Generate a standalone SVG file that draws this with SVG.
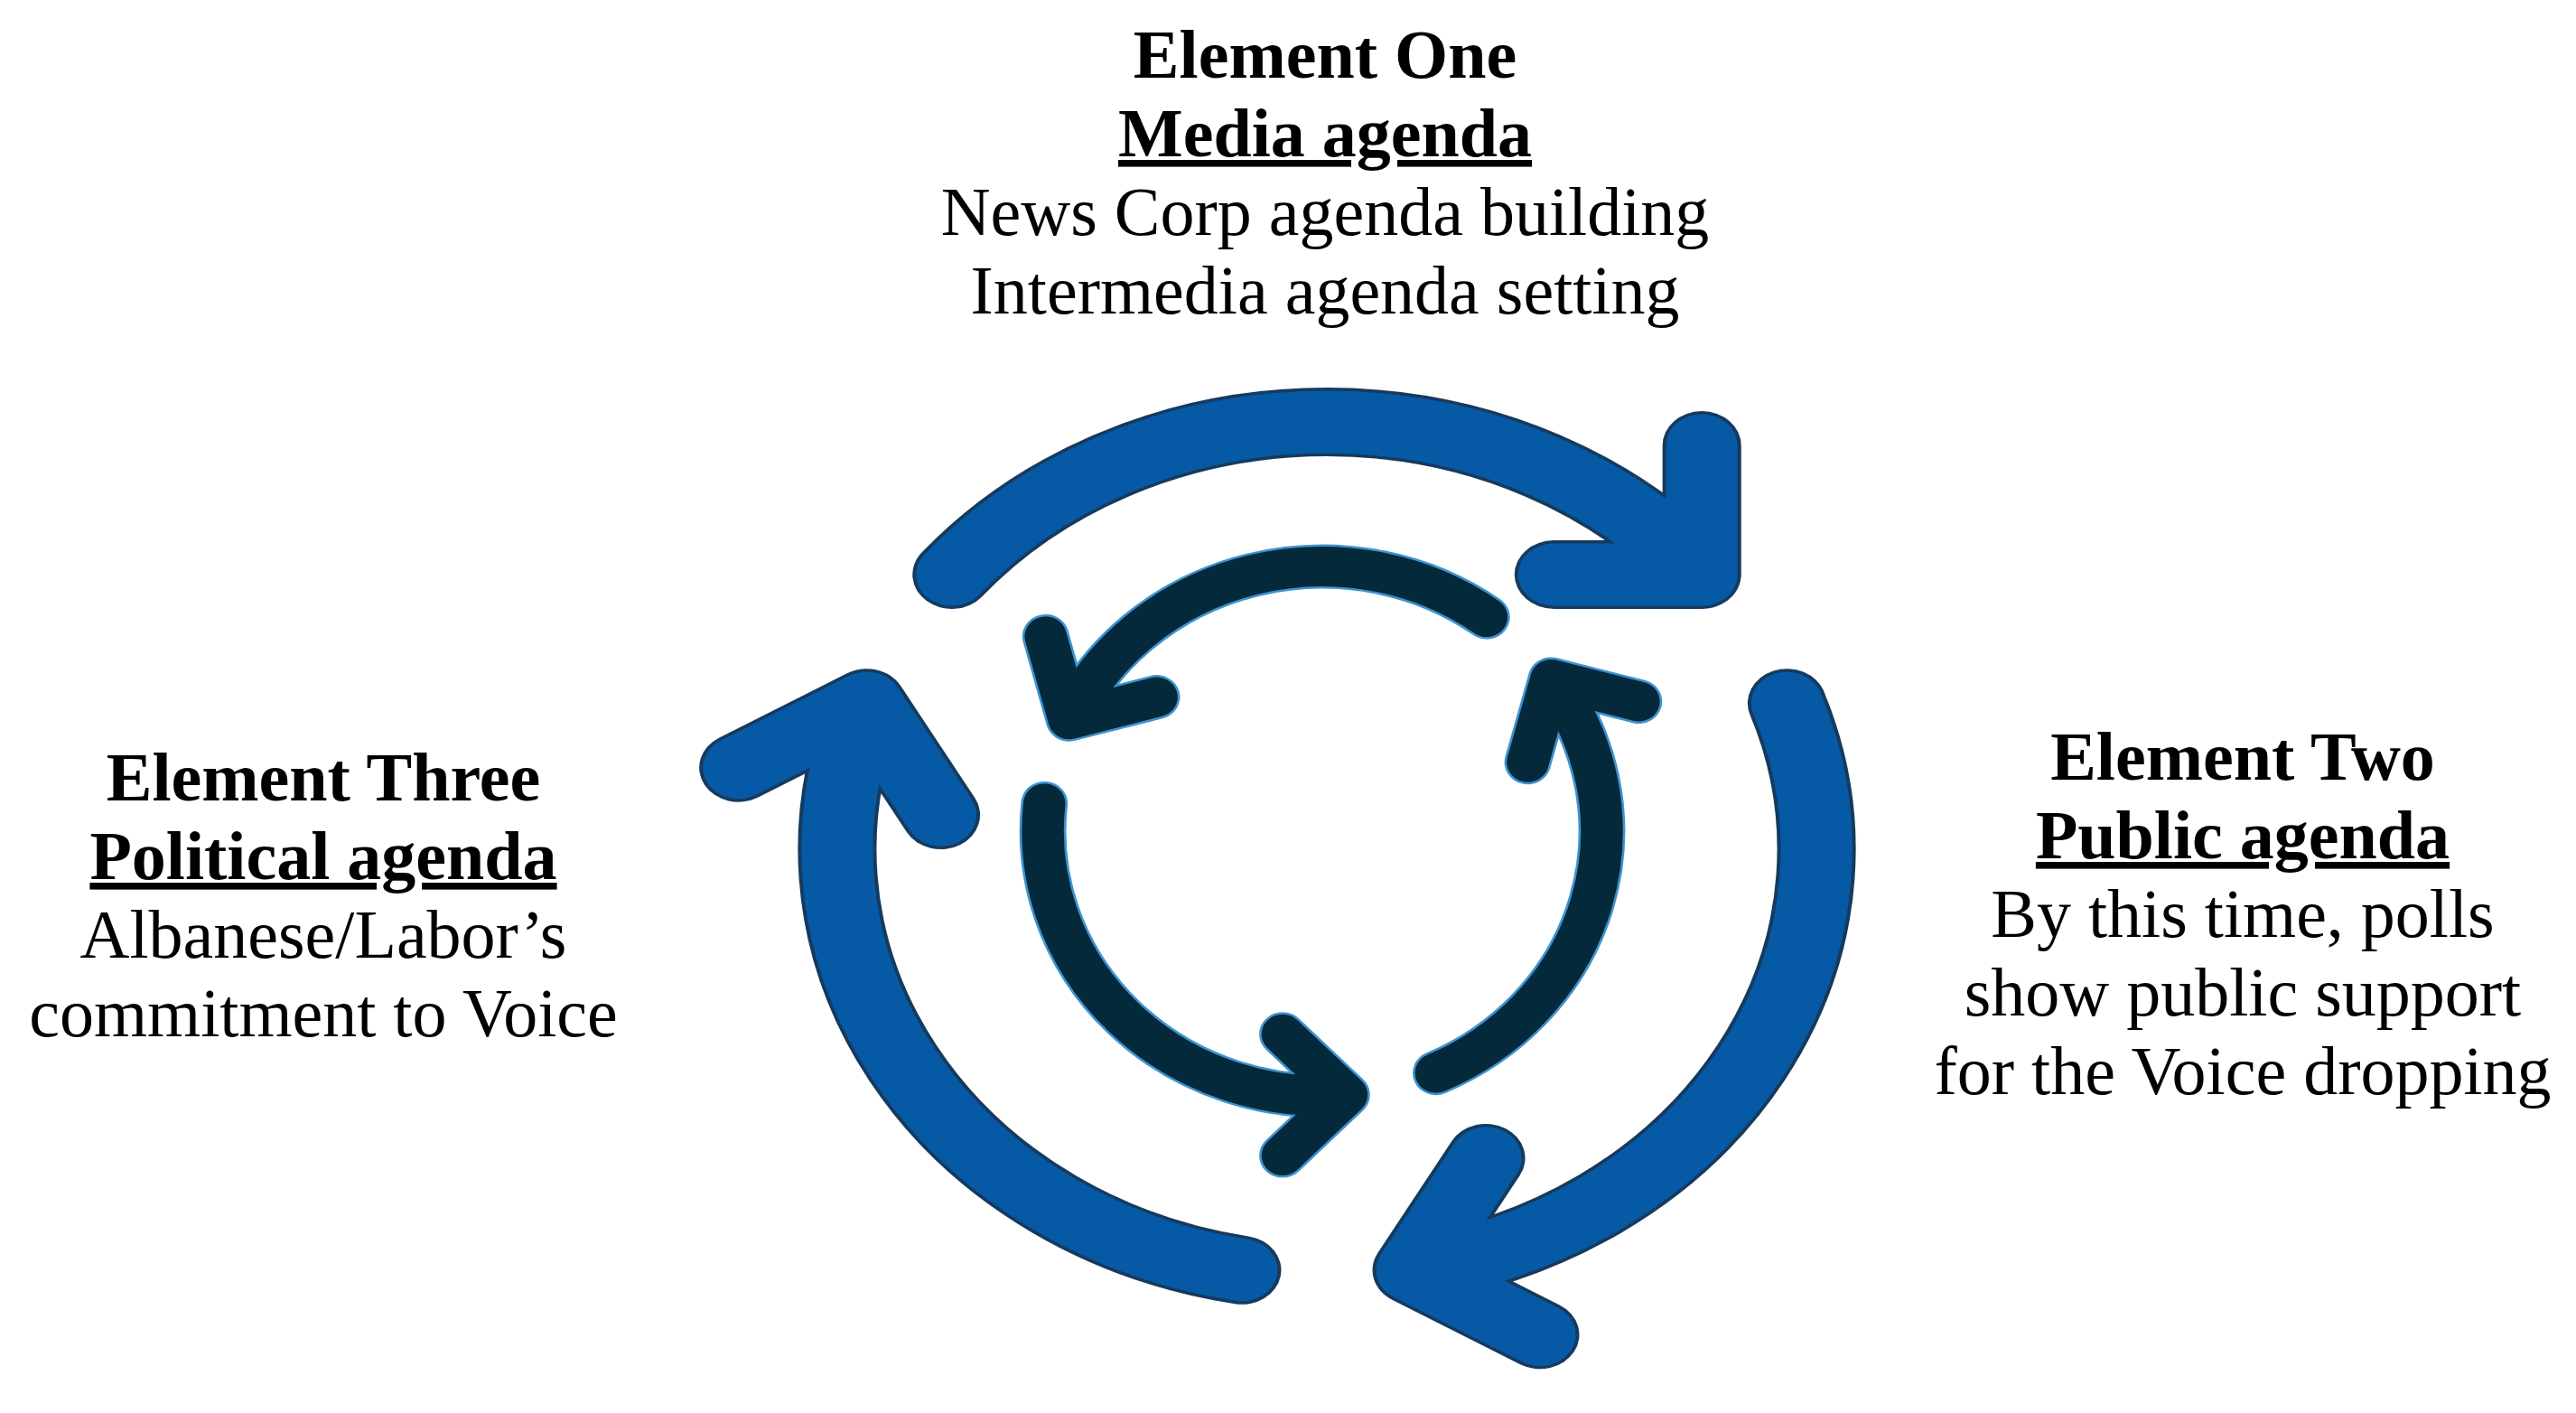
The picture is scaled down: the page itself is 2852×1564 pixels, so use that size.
<svg xmlns="http://www.w3.org/2000/svg" width="2852" height="1564" viewBox="0 0 2852 1564">
<style>
  text { font-family: "Liberation Serif", "Times New Roman", serif; font-size: 76px; fill: #000; text-anchor: middle; }
  .b { font-weight: bold; }
  .u { font-weight: bold; text-decoration: underline; }
  .oedge { fill: none; stroke: #163a5e; stroke-width: 76; stroke-linecap: round; stroke-linejoin: round; }
  .ofill { fill: none; stroke: #065aa5; stroke-width: 69; stroke-linecap: round; stroke-linejoin: round; }
  .iedge { fill: none; stroke: #3d93cf; stroke-width: 49; stroke-linecap: round; stroke-linejoin: round; }
  .ifill { fill: none; stroke: #04293a; stroke-width: 44; stroke-linecap: round; stroke-linejoin: round; }
</style>
<defs>
  <path id="o1" d="M -362.3 -304 A 473 473 0 0 1 362.3 -304 M 362.3 -447 L 362.3 -304 L 219.3 -304"/>
  <path id="o2" d="M 444.5 -161.8 A 473 473 0 0 1 82.1 465.8 M 153.6 342 L 82.1 465.8 L 205.9 537.3"/>
  <path id="o3" d="M -82.1 465.8 A 473 473 0 0 1 -444.5 -161.8 M -568.3 -90.3 L -444.5 -161.8 L -373 -38"/>
  <path id="i1" d="M 172.2 -237 A 293 293 0 0 0 -265.5 -123.8 M -290.1 -215.6 L -265.5 -123.8 L -173.7 -148.4"/>
  <path id="i2" d="M -291.4 -30.6 A 293 293 0 0 0 25.5 291.9 M -41.7 224.7 L 25.5 291.9 L -41.7 359.1"/>
  <path id="i3" d="M 119.2 267.7 A 293 293 0 0 0 240 -168.1 M 215.4 -76.3 L 240 -168.1 L 331.8 -143.5"/>
</defs>
<rect width="2852" height="1564" fill="#ffffff"/>
<g id="connectors">
  <g id="outer-cycle" transform="translate(1469,940) scale(1.146,1)">
    <use href="#o1" class="oedge"/>
    <use href="#o2" class="oedge"/>
    <use href="#o3" class="oedge"/>
    <use href="#o1" class="ofill"/>
    <use href="#o2" class="ofill"/>
    <use href="#o3" class="ofill"/>
  </g>
  <g id="inner-cycle" transform="translate(1464,920) scale(1.056,1)">
    <use href="#i1" class="iedge"/>
    <use href="#i2" class="iedge"/>
    <use href="#i3" class="iedge"/>
    <use href="#i1" class="ifill"/>
    <use href="#i2" class="ifill"/>
    <use href="#i3" class="ifill"/>
  </g>
</g>
<g id="element-one">
  <text x="1467" y="86" class="b">Element One</text>
  <text x="1467" y="173" class="u">Media agenda</text>
  <text x="1467" y="260">News Corp agenda building</text>
  <text x="1467" y="347">Intermedia agenda setting</text>
</g>
<g id="element-two">
  <text x="2483" y="863" class="b">Element Two</text>
  <text x="2483" y="950" class="u">Public agenda</text>
  <text x="2483" y="1037">By this time, polls</text>
  <text x="2483" y="1124">show public support</text>
  <text x="2483" y="1211">for the Voice dropping</text>
</g>
<g id="element-three">
  <text x="358" y="886" class="b">Element Three</text>
  <text x="358" y="973" class="u">Political agenda</text>
  <text x="358" y="1060">Albanese/Labor’s</text>
  <text x="358" y="1147">commitment to Voice</text>
</g>
</svg>
